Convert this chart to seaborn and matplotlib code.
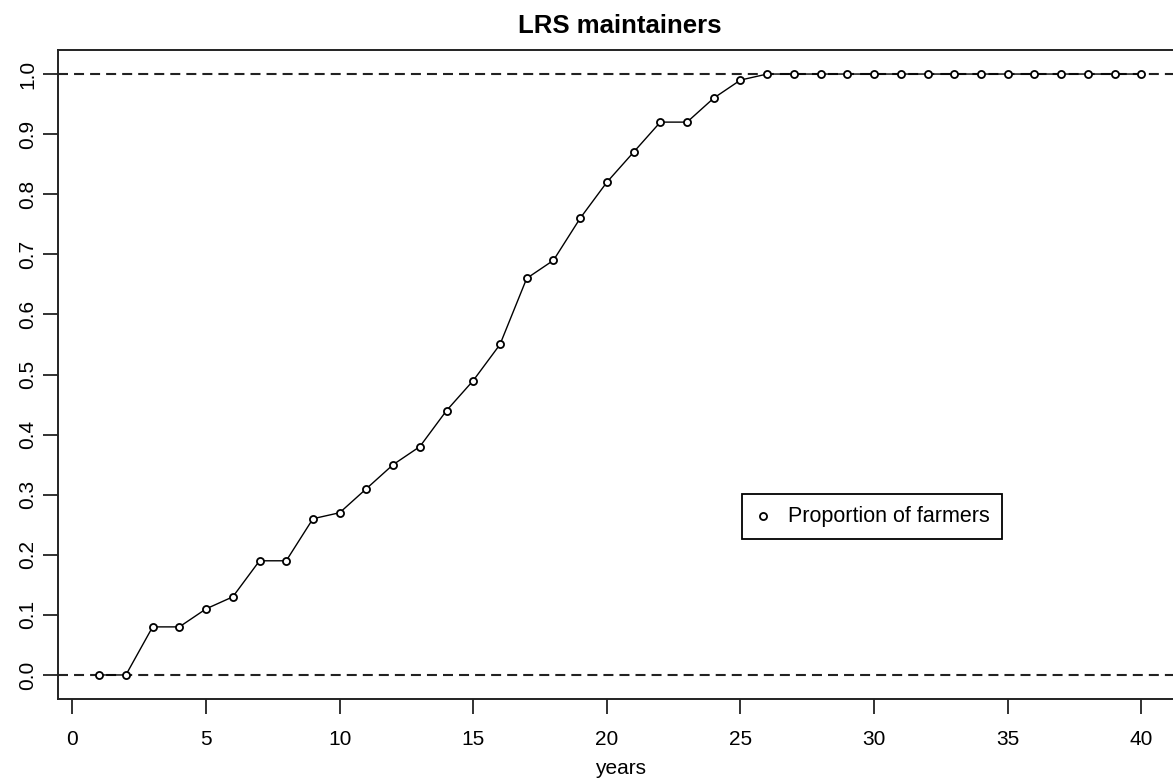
import numpy as np
import pandas as pd
import matplotlib
matplotlib.use("Agg")
import matplotlib.pyplot as plt
import seaborn as sns

# Share of farmers maintaining LRS, by number of years
years = list(range(1, 41))
proportion = [0.00, 0.00, 0.08, 0.08, 0.11, 0.13, 0.19, 0.19, 0.26, 0.27,
              0.31, 0.35, 0.38, 0.44, 0.49, 0.55, 0.66, 0.69, 0.76, 0.82,
              0.87, 0.92, 0.92, 0.96, 0.99, 1.00, 1.00, 1.00, 1.00, 1.00,
              1.00, 1.00, 1.00, 1.00, 1.00, 1.00, 1.00, 1.00, 1.00, 1.00]
reference_levels = [0.0, 1.0]
x_ticks = [0, 5, 10, 15, 20, 25, 30, 35, 40]
y_ticks = [0.0, 0.1, 0.2, 0.3, 0.4, 0.5, 0.6, 0.7, 0.8, 0.9, 1.0]

df = pd.DataFrame({"years": years, "proportion": proportion})

sns.set_style("white")
plt.rcParams["font.family"] = ["Liberation Sans", "DejaVu Sans"]
plt.rcParams["text.color"] = "black"
plt.rcParams["axes.labelcolor"] = "black"

W, H = 1173, 779
fig = plt.figure(figsize=(W / 100, H / 100), dpi=100)
left, right, top, bottom = 57.5, 1183, 50, 699
ax = fig.add_axes([left / W, 1 - bottom / H, (right - left) / W, (bottom - top) / H])

# connecting line, then open circles on top
sns.lineplot(data=df, x="years", y="proportion", ax=ax, color="black",
             linewidth=1.0, estimator=None, sort=False, zorder=3)
sns.scatterplot(data=df, x="years", y="proportion", ax=ax, marker="o", s=26,
                facecolor="white", edgecolor="black", linewidth=1.3,
                label="Proportion of farmers", zorder=4)

for lvl in reference_levels:
    ax.axhline(lvl, color="#222222", linewidth=1.5, linestyle=(0, (4.8, 2.9)), zorder=2)

span = years[-1] - years[0]
ax.set_xlim(years[0] - 0.04 * span, years[-1] + 0.04 * span)
ax.set_ylim(-0.04, 1.04)

ax.set_xticks(x_ticks)
ax.set_xticklabels([str(t) for t in x_ticks])
ax.set_yticks(y_ticks)
ax.set_yticklabels([f"{t:.1f}" for t in y_ticks], rotation=90, va="center")

ax.tick_params(axis="both", which="major", direction="out", length=10.5,
               width=1.3, color="#222222", labelsize=15, labelcolor="black",
               left=True, bottom=True)
ax.tick_params(axis="x", pad=12)
ax.tick_params(axis="y", pad=4)

for sp in ax.spines.values():
    sp.set_color("#222222")
    sp.set_linewidth(1.4)

ax.set_xlabel("years", fontsize=15, labelpad=7, color="black")
ax.set_ylabel("")
ax.set_title("LRS maintainers", fontsize=18.5, fontweight="bold", pad=12, color="black")

leg = ax.legend(loc="upper left", bbox_to_anchor=(741.7 / W, 1 - 494 / H),
                bbox_transform=fig.transFigure, borderaxespad=0, fontsize=15.5,
                frameon=True, fancybox=False, edgecolor="black", framealpha=1,
                handlelength=0.9, handletextpad=0.7, borderpad=0.55,
                scatterpoints=1)
leg.get_frame().set_linewidth(1.3)
for t in leg.get_texts():
    t.set_color("black")

fig.savefig("out.png", dpi=100)
